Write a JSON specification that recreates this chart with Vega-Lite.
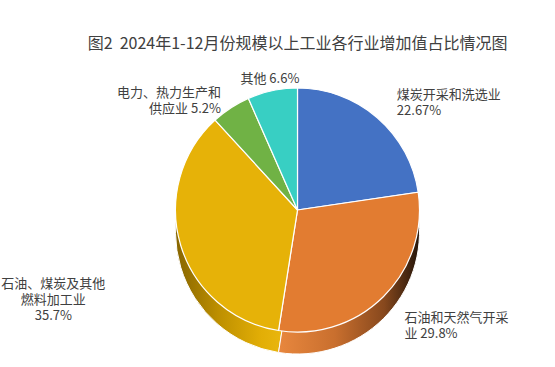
{
  "$schema": "https://vega.github.io/schema/vega-lite/v6.json",
  "width": 515,
  "height": 296,
  "autosize": "none",
  "padding": {"left": 40, "right": 0, "top": 62, "bottom": 9},
  "background": "white",
  "config": {"view": {"stroke": null}},
  "title": {
    "text": "图2\u00a0\u00a02024年1-12月份规模以上工业各行业增加值占比情况图",
    "font": "Noto Sans CJK SC",
    "fontSize": 16,
    "fontWeight": "normal",
    "color": "#404040",
    "frame": "group",
    "anchor": "middle",
    "offset": 10
  },
  "data": {
    "values": [
      {"idx": 1, "industry": "煤炭开采和洗选业", "share": 22.67, "label": "煤炭开采和洗选业\n22.67%"},
      {"idx": 2, "industry": "石油和天然气开采业", "share": 29.8, "label": "石油和天然气开采\n业 29.8%"},
      {"idx": 3, "industry": "石油、煤炭及其他燃料加工业", "share": 35.7, "label": "石油、煤炭及其他\n燃料加工业\n35.7%"},
      {"idx": 4, "industry": "电力、热力生产和供应业", "share": 5.2, "label": "电力、热力生产和\n供应业 5.2%"},
      {"idx": 5, "industry": "其他", "share": 6.6, "label": "其他 6.6%"}
    ]
  },
  "encoding": {
    "theta": {"field": "share", "type": "quantitative", "stack": true},
    "order": {"field": "idx", "type": "ordinal"}
  },
  "layer": [
    {
      "mark": {
        "type": "arc", "radius": 122, "yOffset": 22, "stroke": "white", "strokeWidth": 1,
        "fill": {"gradient": "linear", "x1": 0, "y1": 0, "x2": 1, "y2": 0,
          "stops": [
            {"offset": 0, "color": "#876500"},
            {"offset": 0.35, "color": "#BD8F00"},
            {"offset": 0.7, "color": "#E2AE06"},
            {"offset": 1, "color": "#EEBC14"}
          ]}
      },
      "encoding": {"opacity": {"condition": {"test": "datum.idx == 3", "value": 1}, "value": 0}}
    },
    {
      "mark": {
        "type": "arc", "radius": 122, "yOffset": 22, "stroke": "white", "strokeWidth": 1,
        "fill": {"gradient": "linear", "x1": 0, "y1": 0, "x2": 1, "y2": 0,
          "stops": [
            {"offset": 0, "color": "#E8873E"},
            {"offset": 0.4, "color": "#C96F2E"},
            {"offset": 0.75, "color": "#87481D"},
            {"offset": 1, "color": "#24150A"}
          ]}
      },
      "encoding": {"opacity": {"condition": {"test": "datum.idx == 2", "value": 1}, "value": 0}}
    },
    {
      "mark": {"type": "arc", "radius": 122, "stroke": "white", "strokeWidth": 1.2},
      "encoding": {
        "color": {
          "field": "industry", "type": "nominal", "legend": null,
          "scale": {
            "domain": ["煤炭开采和洗选业", "石油和天然气开采业", "石油、煤炭及其他燃料加工业", "电力、热力生产和供应业", "其他"],
            "range": ["#4472C4", "#E27C31", "#E6B208", "#70B245", "#38CFC3"]
          }
        }
      }
    },
    {
      "mark": {
        "type": "text",
        "radius": {"expr": "datum.idx == 1 ? 152 : datum.idx == 2 ? 152 : datum.idx == 3 ? 255 : datum.idx == 4 ? 140 : 134"},
        "align": {"expr": "datum.idx <= 2 ? 'left' : datum.idx == 4 ? 'right' : 'center'"},
        "baseline": "middle", "lineBreak": "\n", "lineHeight": 16,
        "font": "Noto Sans CJK SC", "fontSize": 13, "color": "#404040"
      },
      "encoding": {"text": {"field": "label"}}
    }
  ]
}
